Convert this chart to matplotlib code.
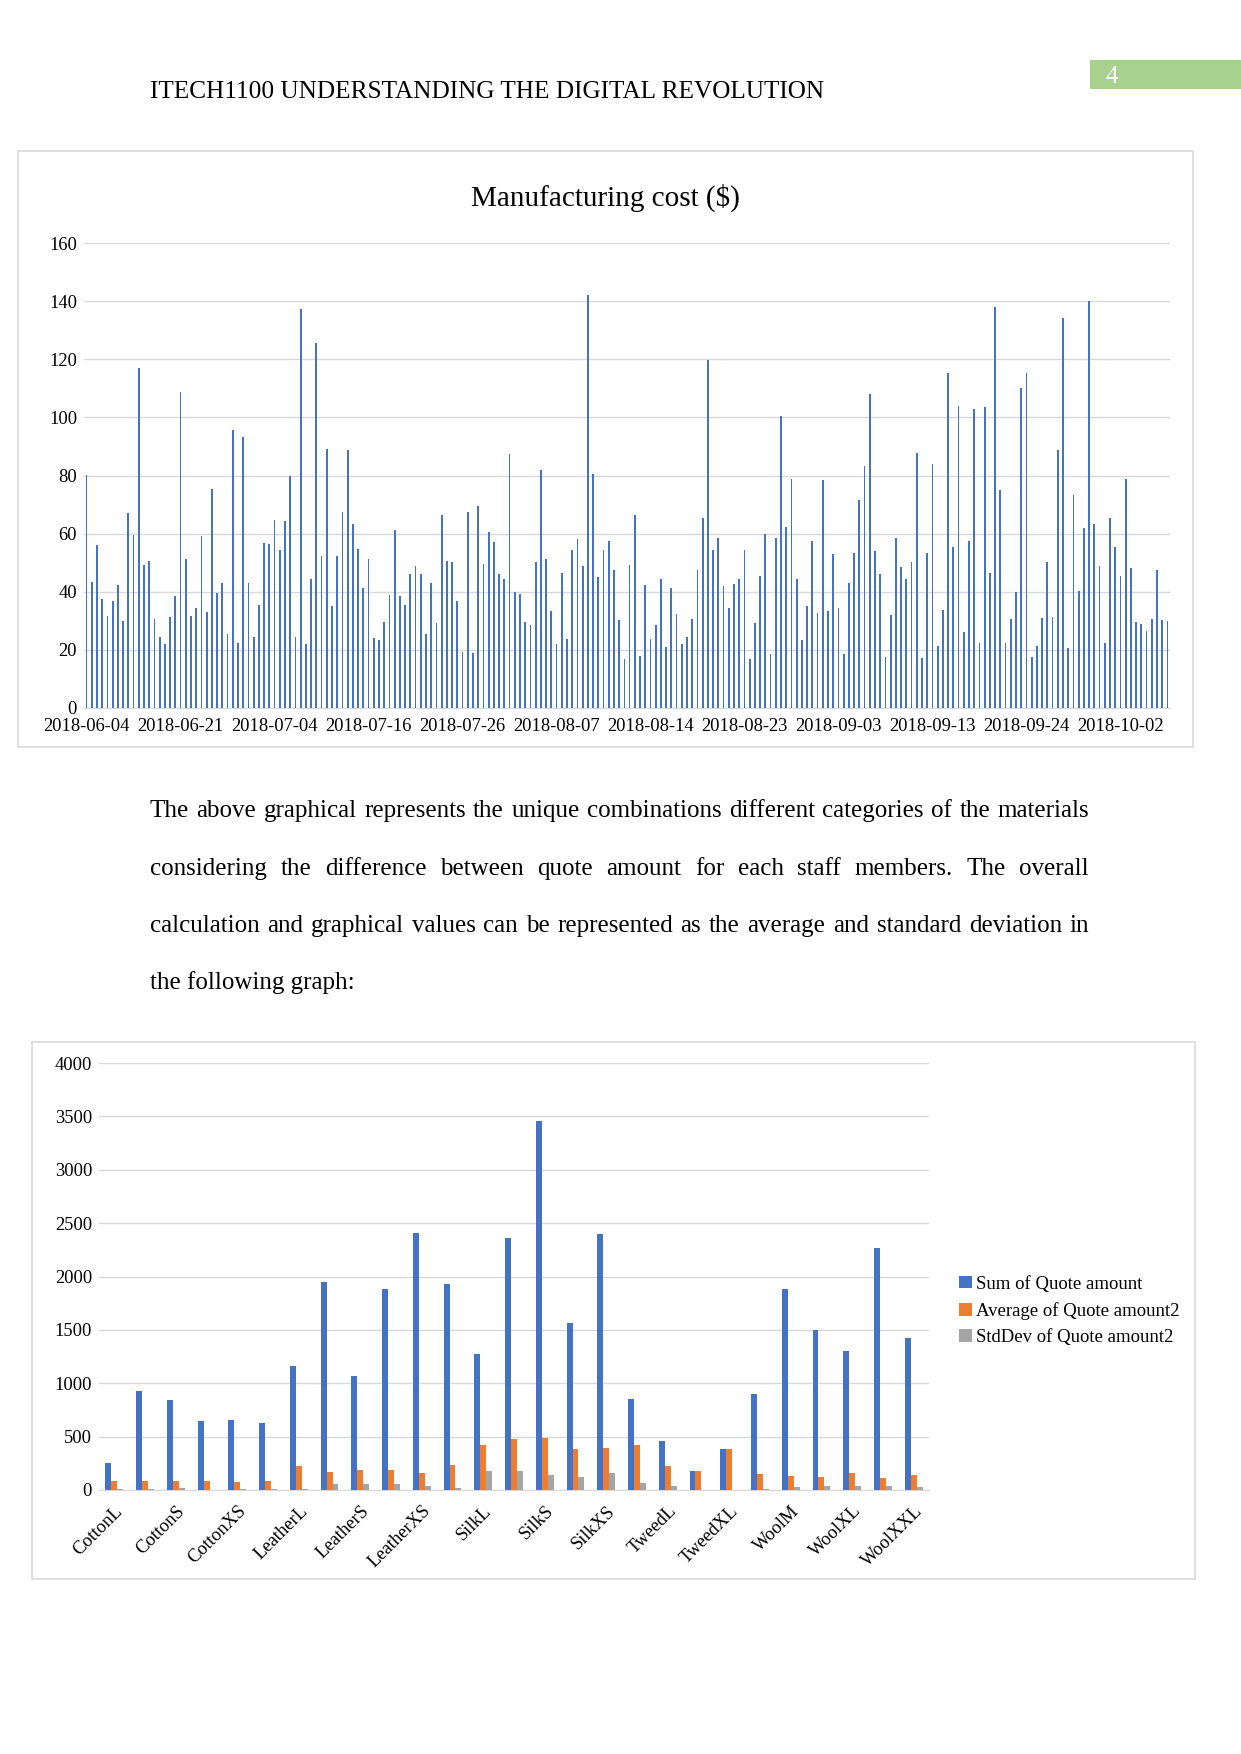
import matplotlib
matplotlib.use("Agg")
import matplotlib.pyplot as plt
from matplotlib.patches import Rectangle
import numpy as np

plt.rcParams['font.family'] = ['Liberation Serif', 'DejaVu Serif']

# ---------------- data ----------------
header_text = "ITECH1100 UNDERSTANDING THE DIGITAL REVOLUTION"
page_number = "4"

cost_title = "Manufacturing cost ($)"
cost_values = [
    80.2, 43.4, 56.2, 37.5, 31.6, 36.6, 42.3, 29.9, 67.1, 59.5, 117.2, 49.2, 50.6, 30.6, 24.4, 22.0, 31.3, 38.5,
    108.9, 51.3, 31.6, 34.4, 59.2, 33.0, 75.5, 39.5, 43.0, 25.4, 95.7, 22.3, 93.3, 43.0, 24.4, 35.4, 56.8, 56.4,
    64.7, 54.4, 64.4, 79.9, 24.4, 137.5, 22.0, 44.4, 125.6, 52.3, 89.2, 35.1, 52.3, 67.5, 88.9, 63.3, 54.7, 41.3,
    51.3, 24.0, 23.3, 29.5, 38.9, 61.3, 38.5, 35.4, 46.1, 48.9, 46.1, 25.4, 43.0, 29.2, 66.4, 50.6, 50.2,
    36.9, 19.2, 67.5, 18.9, 69.5, 49.5, 60.6, 57.1, 46.1, 44.4, 87.5, 39.9, 39.2, 29.5, 28.5, 50.2, 82.0, 51.3,
    33.3, 22.0, 46.4, 23.7, 54.4, 58.2, 48.9, 142.3, 80.6, 45.1, 54.4, 57.5, 47.5, 30.2, 16.8, 49.2, 66.4,
    17.8, 42.3, 23.7, 28.5, 44.4, 20.9, 41.3, 32.3, 22.0, 24.4, 30.6, 47.5, 65.4, 119.9, 54.4, 58.5, 42.0, 34.4,
    42.6, 44.4, 54.4, 16.8, 29.2, 45.4, 59.9, 18.5, 58.5, 100.6, 62.3, 78.9, 44.4, 23.3, 35.1, 57.5, 32.6,
    78.5, 33.3, 53.0, 34.4, 18.5, 43.0, 53.3, 71.6, 83.3, 108.2, 54.0, 46.1, 17.5, 32.0, 58.5, 48.5, 44.4, 50.2,
    87.8, 17.1, 53.3, 84.0, 21.3, 33.7, 115.4, 55.4, 104.0, 26.1, 57.5, 103.0, 22.3, 103.7, 46.4, 138.2, 75.1,
    22.3, 30.6, 39.9, 110.2, 115.4, 17.5, 21.3, 30.9, 50.2, 31.3, 88.9, 134.4, 20.6, 73.3, 40.2, 62.0, 140.2, 63.3,
    48.9, 22.3, 65.4, 55.4, 45.4, 78.9, 48.2, 29.5, 28.9, 26.4, 30.6, 47.5, 30.2, 29.9,
]
cost_date_labels = ["2018-06-04", "2018-06-21", "2018-07-04", "2018-07-16", "2018-07-26", "2018-08-07",
                    "2018-08-14", "2018-08-23", "2018-09-03", "2018-09-13", "2018-09-24", "2018-10-02"]
cost_label_step = 18
cost_yticks = [0, 20, 40, 60, 80, 100, 120, 140, 160]

paragraph_lines = [
    "The above graphical represents the unique combinations different categories of the materials",
    "considering the difference between quote amount for each staff members. The overall",
    "calculation and graphical values can be represented as the average and standard deviation in",
    "the following graph:",
]

quote_categories = ["CottonL", "CottonM", "CottonS", "CottonXL", "CottonXS", "CottonXXL",
                    "LeatherL", "LeatherM", "LeatherS", "LeatherXL", "LeatherXS", "LeatherXXL",
                    "SilkL", "SilkM", "SilkS", "SilkXL", "SilkXS", "SilkXXL",
                    "TweedL", "TweedM", "TweedXL",
                    "WoolL", "WoolM", "WoolS", "WoolXL", "WoolXS", "WoolXXL"]
quote_sum = [255, 929, 845, 648, 658, 629, 1161, 1948, 1068, 1887, 2410, 1929, 1274, 2361, 3458, 1565,
             2400, 855, 461, 174, 384, 900, 1884, 1500, 1303, 2268, 1426]
quote_avg = [87, 81, 81, 81, 71, 87, 226, 165, 184, 190, 155, 235, 423, 474, 487, 384, 394, 423, 226,
             174, 384, 152, 132, 123, 161, 113, 142]
quote_std = [10, 10, 23, 3, 10, 10, 10, 58, 58, 58, 42, 23, 174, 174, 142, 123, 161, 68, 39, 0, 0,
             10, 29, 39, 39, 39, 29]
series_names = ["Sum of Quote amount", "Average of Quote amount2", "StdDev of Quote amount2"]
quote_yticks = [0, 500, 1000, 1500, 2000, 2500, 3000, 3500, 4000]

# ---------------- styles ----------------
W, H = 1241, 1754
BLUE, ORANGE, GRAY = "#4472C4", "#ED7D31", "#A5A5A5"
GRID = "#D9D9D9"
TXT = "#000000"

fig = plt.figure(figsize=(W / 100, H / 100), dpi=100)


def fx(x):
    return x / W


def fy(y):
    return 1 - y / H


def axes_px(left, top, right, bottom):
    return fig.add_axes([fx(left), fy(bottom), (right - left) / W, (bottom - top) / H])


def box_px(left, top, right, bottom):
    fig.patches.append(Rectangle((fx(left), fy(bottom)), (right - left) / W, (bottom - top) / H,
                                 transform=fig.transFigure, facecolor="none", edgecolor=GRID, lw=1.2))


# header
fig.text(fx(150), fy(92), header_text, fontsize=18.2, color=TXT, ha="left", va="center")
fig.patches.append(Rectangle((fx(1090), fy(89)), (W - 1090) / W, 28.5 / H, transform=fig.transFigure,
                             facecolor="#A9D18E", edgecolor="none"))
fig.text(fx(1112), fy(77), page_number, fontsize=18, color="white", ha="center", va="center")

# ---------------- chart 1 ----------------
box_px(18, 151, 1193, 747)
fig.text(fx(605), fy(198), cost_title, fontsize=21, color=TXT, ha="center", va="center")
ax1 = axes_px(84, 243.3, 1170, 707.7)
x1 = np.arange(len(cost_values))
ax1.bar(x1, cost_values, width=0.34, color=BLUE, linewidth=0, zorder=3)
ax1.set_xlim(-0.5, len(cost_values) - 0.5)
ax1.set_ylim(0, 160)
ax1.set_yticks(cost_yticks)
ax1.set_yticklabels([str(v) for v in cost_yticks], fontsize=13.3, color=TXT)
ax1.set_xticks(x1[::cost_label_step])
ax1.set_xticklabels(cost_date_labels, fontsize=13.3, color=TXT)
ax1.tick_params(axis="both", length=0)
ax1.tick_params(axis="y", pad=5)
ax1.tick_params(axis="x", pad=7.5)
ax1.grid(axis="y", color=GRID, lw=1, zorder=0)
for s in ["top", "right", "left"]:
    ax1.spines[s].set_visible(False)
ax1.spines["bottom"].set_color(GRID)
ax1.set_facecolor("none")

# ---------------- paragraph (justified) ----------------
renderer = fig.canvas.get_renderer()
p_left, p_right = 150, 1089
p_tops = [811, 869, 926, 983]
p_size = 18
for li, line in enumerate(paragraph_lines):
    y = fy(p_tops[li])
    words = line.split(" ")
    if li == len(paragraph_lines) - 1:
        fig.text(fx(p_left), y, line, fontsize=p_size, color=TXT, ha="left", va="center")
        continue
    texts = [fig.text(0, y, w, fontsize=p_size, color=TXT, ha="left", va="center") for w in words]
    widths = [t.get_window_extent(renderer).width for t in texts]
    gap = (p_right - p_left - sum(widths)) / (len(words) - 1)
    xpos = p_left
    for t, w in zip(texts, widths):
        t.set_x(fx(xpos))
        xpos += w + gap

# ---------------- chart 2 ----------------
box_px(32, 1042, 1195, 1579)
ax2 = axes_px(99, 1063, 929, 1490)
x2 = np.arange(len(quote_categories))
bw = 0.193
ax2.bar(x2 - bw, quote_sum, width=bw, color=BLUE, linewidth=0, zorder=3, label=series_names[0])
ax2.bar(x2, quote_avg, width=bw, color=ORANGE, linewidth=0, zorder=3, label=series_names[1])
ax2.bar(x2 + bw, quote_std, width=bw, color=GRAY, linewidth=0, zorder=3, label=series_names[2])
ax2.set_xlim(-0.5, len(quote_categories) - 0.5)
ax2.set_ylim(0, 4000)
ax2.set_yticks(quote_yticks)
ax2.set_yticklabels([str(v) for v in quote_yticks], fontsize=13.3, color=TXT)
ax2.set_xticks(x2[::2])
ax2.set_xticklabels(quote_categories[::2], fontsize=13.3, color=TXT, rotation=45,
                    ha="right", va="top", rotation_mode="anchor")
ax2.tick_params(axis="both", length=0)
ax2.tick_params(axis="y", pad=5)
ax2.tick_params(axis="x", pad=9)
ax2.grid(axis="y", color=GRID, lw=1, zorder=0)
for s in ["top", "right", "left"]:
    ax2.spines[s].set_visible(False)
ax2.spines["bottom"].set_color(GRID)
ax2.set_facecolor("none")
ax2.legend(loc="center left", bbox_to_anchor=(fx(950), fy(1311)), bbox_transform=fig.transFigure,
           frameon=False, fontsize=13.5, handlelength=0.65, handleheight=0.65, handletextpad=0.25,
           labelspacing=0.5, borderpad=0)

fig.savefig("out.png", dpi=100, facecolor="white")
